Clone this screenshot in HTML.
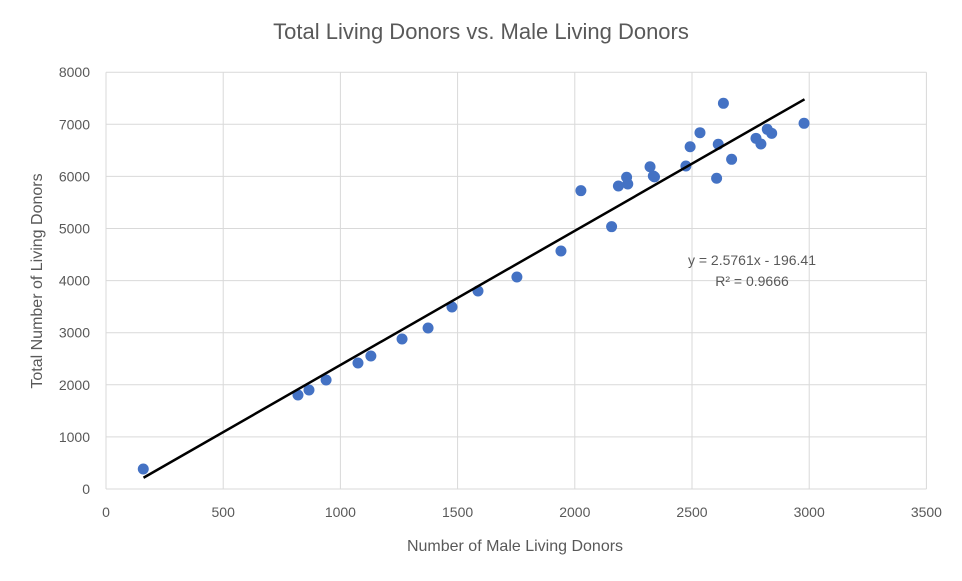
<!DOCTYPE html>
<html><head><meta charset="utf-8"><style>
body{margin:0;background:#fff;}
svg text{font-family:"Liberation Sans",sans-serif;fill:#595959;}
</style></head><body>
<svg id="chart" width="962" height="576">
<text x="481" y="39" text-anchor="middle" font-size="22">Total Living Donors vs. Male Living Donors</text>
<g id="grid"></g><g id="ticks"></g><g id="marks"></g>
<text x="515" y="551" text-anchor="middle" font-size="16">Number of Male Living Donors</text>
<text transform="translate(42,281) rotate(-90)" text-anchor="middle" font-size="16">Total Number of Living Donors</text>
<text x="752" y="265" text-anchor="middle" font-size="14">y = 2.5761x - 196.41</text>
<text x="752" y="286" text-anchor="middle" font-size="14">R² = 0.9666</text>
</svg>
<script>
const xVals=[159,819,866,939,1075,1130,1263,1374,1476,1587,1753,1941,2026,2157,2186,2221,2226,2321,2335,2340,2474,2492,2534,2605,2612,2634,2669,2773,2794,2821,2840,2978];
const yVals=[384,1804,1900,2092,2418,2553,2879,3090,3493,3800,4069,4568,5726,5035,5816,5983,5854,6186,6008,5990,6200,6570,6839,5964,6616,7403,6328,6731,6622,6904,6827,7019];
const xTicks=[0,500,1000,1500,2000,2500,3000,3500];
const yTicks=[0,1000,2000,3000,4000,5000,6000,7000,8000];
const slope=2.5761, intercept=-196.41, trendX=[160,2980];
const X=v=>106+v*0.2344, Y=v=>489-v*0.0521;
const NS="http://www.w3.org/2000/svg";
function mk(t,a,p){const e=document.createElementNS(NS,t);for(const k in a)e.setAttribute(k,a[k]);p.appendChild(e);return e;}
const grid=document.getElementById('grid'),ticks=document.getElementById('ticks'),marks=document.getElementById('marks');
xTicks.forEach(v=>{const l=mk('line',{x1:X(v),x2:X(v),y1:Y(0),y2:Y(8000),stroke:'#d9d9d9','stroke-width':1},grid);


const t=mk('text',{x:X(v),y:Y(0)+28,'text-anchor':'middle','font-size':14},ticks);t.textContent=v;

});
yTicks.forEach(v=>{const l=mk('line',{x1:X(0),x2:X(3500),y1:Y(v),y2:Y(v),stroke:'#d9d9d9','stroke-width':1},grid);


const t=mk('text',{x:X(0)-16,y:Y(v)+5,'text-anchor':'end','font-size':14},ticks);t.textContent=v;

});
xVals.forEach((x,i)=>{const c=mk('circle',{cx:X(x),cy:Y(yVals[i]),r:5.5,fill:'#4472c4'},marks);

});
const tl=mk('line',{x1:X(trendX[0]),y1:Y(slope*trendX[0]+intercept),x2:X(trendX[1]),y2:Y(slope*trendX[1]+intercept),stroke:'#000','stroke-width':2.5},marks);


</script>
</body></html>
